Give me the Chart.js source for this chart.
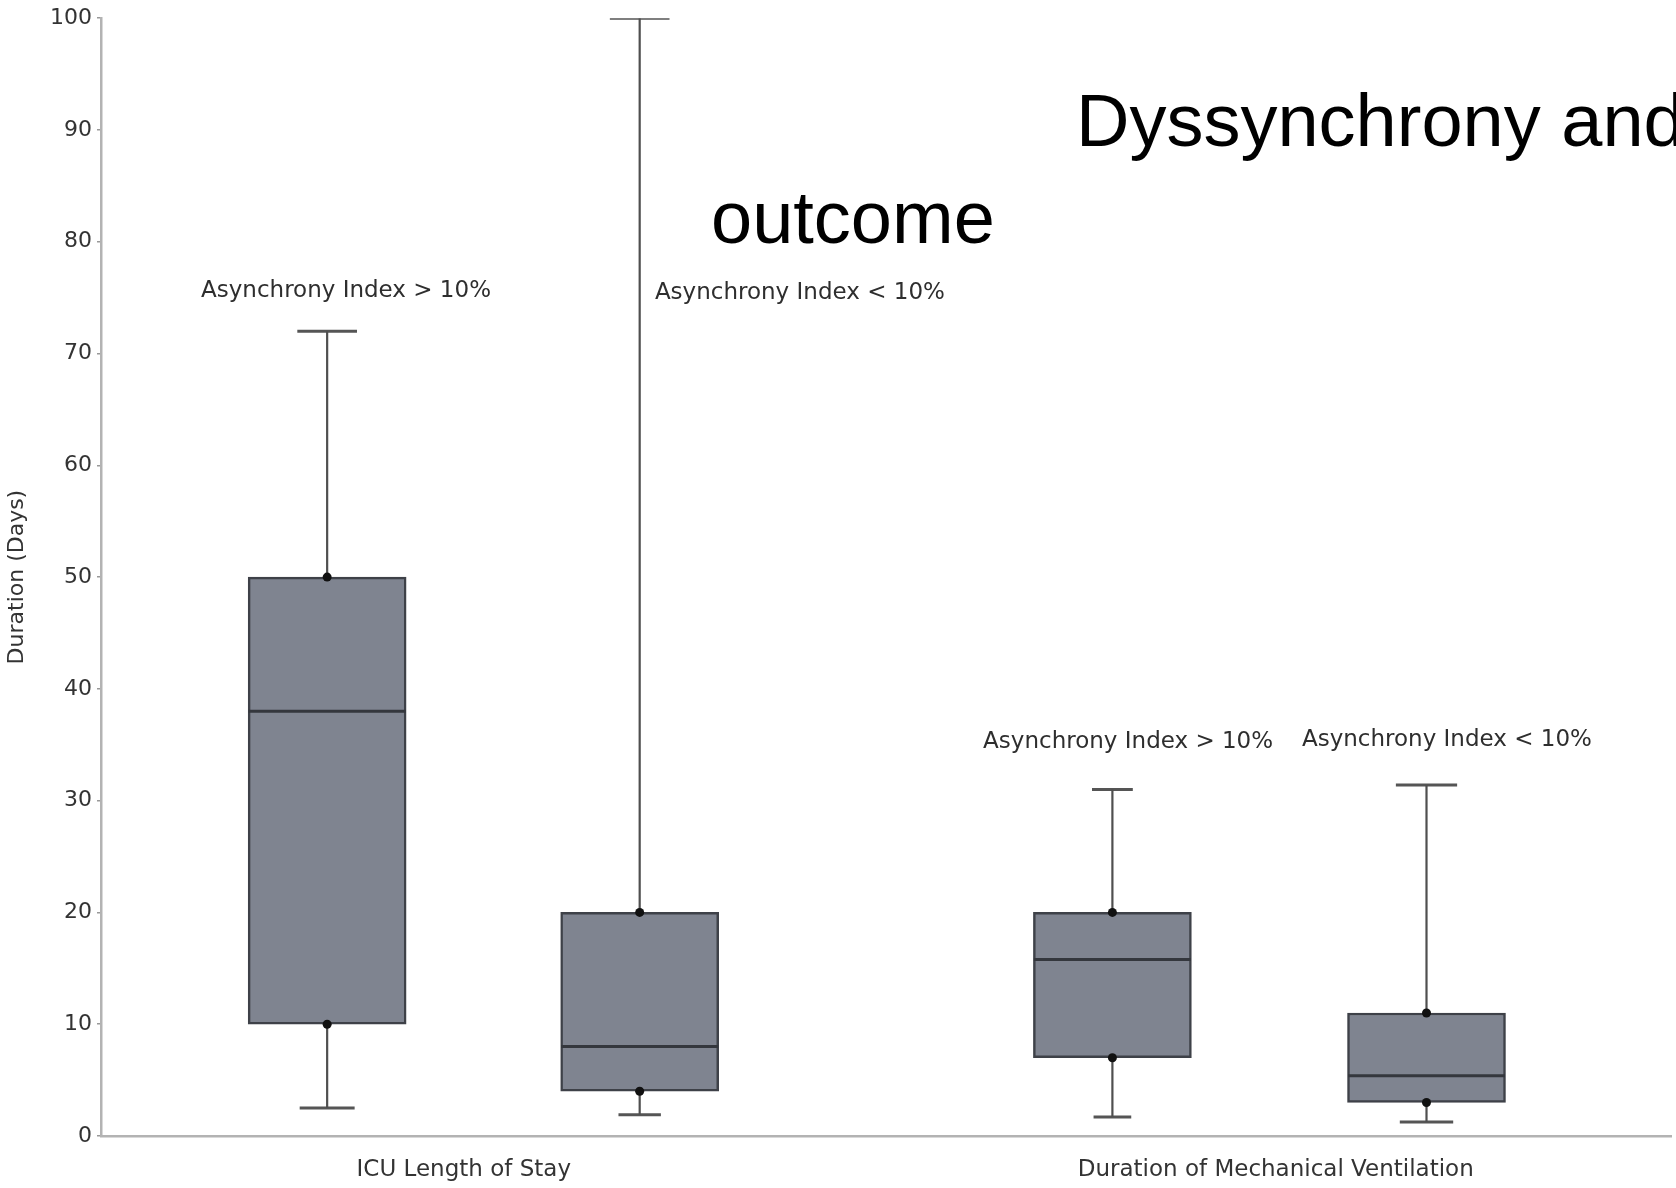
<!DOCTYPE html>
<html>
<head>
<meta charset="utf-8">
<title>Dyssynchrony and outcome</title>
<script src="https://cdn.jsdelivr.net/npm/chart.js@4.4.1/dist/chart.umd.min.js"></script>
<style>
  html, body { margin: 0; padding: 0; background: #fff; }
  #wrap { width: 1676px; height: 1188px; position: relative; }
</style>
</head>
<body>
<div id="wrap"><canvas id="chartCanvas"></canvas></div>
<script>
// box plot values (days), one entry per box
const boxCenters = [1.44, 3.43, 6.44, 8.44];
const whiskerLow = [2.5, 1.9, 1.7, 1.25];
const lowerQuartile = [10, 4, 7, 3];
const medianValues = [38, 8, 15.8, 5.4];
const upperQuartile = [50, 20, 20, 11];
const whiskerHigh = [72, 100, 31, 31.4];

const boxLabels = ['Asynchrony Index > 10%', 'Asynchrony Index < 10%', 'Asynchrony Index > 10%', 'Asynchrony Index < 10%'];
const boxLabelX = [1.56, 4.45, 6.54, 8.57];
const boxLabelY = [75.1, 74.9, 34.7, 34.9];

const groupLabels = ['ICU Length of Stay', 'Duration of Mechanical Ventilation'];
const groupPositions = [2.31, 7.48];

// cap half widths in x units (they differ a little per box in the original)
const capTopHalf = [0.19, 0.19, 0.13, 0.195];
const capBottomHalf = [0.175, 0.135, 0.12, 0.17];
const boxHalf = 0.5;

Chart.defaults.font.family = '"DejaVu Sans", Verdana, sans-serif';
Chart.defaults.color = '#333';

// build the helper line data from the arrays above
const whiskerPts = [];
const capPts = [];
const medianPts = [];
const dotPts = [];
boxCenters.forEach((c, i) => {
    whiskerPts.push({x: c, y: whiskerHigh[i]}, {x: c, y: upperQuartile[i]}, {x: c, y: null});
    whiskerPts.push({x: c, y: lowerQuartile[i]}, {x: c, y: whiskerLow[i]}, {x: c, y: null});
    capPts.push({x: c - capTopHalf[i], y: whiskerHigh[i]}, {x: c + capTopHalf[i], y: whiskerHigh[i]}, {x: c, y: null});
    capPts.push({x: c - capBottomHalf[i], y: whiskerLow[i]}, {x: c + capBottomHalf[i], y: whiskerLow[i]}, {x: c, y: null});
    medianPts.push({x: c - boxHalf, y: medianValues[i]}, {x: c + boxHalf, y: medianValues[i]}, {x: c, y: null});
    dotPts.push({x: c, y: upperQuartile[i]}, {x: c, y: lowerQuartile[i]});
});

// text over the plot: box labels and the clipped slide title
const overlayText = {
    id: 'overlayText',
    afterDraw(chart) {
        const ctx = chart.ctx;
        const xs = chart.scales.x;
        const ys = chart.scales.y;
        ctx.save();
        ctx.fillStyle = '#2e2e2e';
        ctx.font = '23px "DejaVu Sans", Verdana, sans-serif';
        ctx.textAlign = 'center';
        ctx.textBaseline = 'alphabetic';
        boxLabels.forEach((t, i) => {
            ctx.fillText(t, xs.getPixelForValue(boxLabelX[i]), ys.getPixelForValue(boxLabelY[i]));
        });
        ctx.fillStyle = '#000';
        ctx.font = '74px "Liberation Sans", Arial, sans-serif';
        ctx.textAlign = 'left';
        ctx.fillText('Dyssynchrony and', 1076, 146);
        ctx.fillText('outcome', 711, 243);
        ctx.restore();
    }
};

new Chart(document.getElementById('chartCanvas'), {
    type: 'bar',
    data: {
        datasets: [
            {
                type: 'line',
                data: dotPts,
                showLine: false,
                pointRadius: 4.5,
                pointBackgroundColor: '#111',
                pointBorderWidth: 0,
                order: 0
            },
            {
                type: 'line',
                data: medianPts,
                borderColor: '#34373d',
                borderWidth: 3,
                pointRadius: 0,
                spanGaps: false,
                order: 1
            },
            {
                type: 'bar',
                data: boxCenters.map((c, i) => ({x: c, y: [lowerQuartile[i], upperQuartile[i]]})),
                backgroundColor: '#7f8490',
                borderColor: '#3e4148',
                borderWidth: 2.5,
                borderSkipped: false,
                barThickness: 158,
                order: 2
            },
            {
                type: 'line',
                data: whiskerPts,
                borderColor: '#4f4f4f',
                borderWidth: 2.2,
                pointRadius: 0,
                spanGaps: false,
                order: 3
            },
            {
                type: 'line',
                data: capPts,
                borderColor: '#555',
                borderWidth: 3,
                pointRadius: 0,
                spanGaps: false,
                order: 3
            }
        ]
    },
    options: {
        responsive: true,
        maintainAspectRatio: false,
        animation: false,
        events: [],
        layout: { padding: { top: 16, right: 0, left: 0, bottom: 0 } },
        plugins: {
            legend: { display: false },
            tooltip: { enabled: false }
        },
        scales: {
            x: {
                type: 'linear',
                min: 0,
                max: 10,
                offset: false,
                grid: { display: false, drawTicks: false },
                border: { display: true, color: '#b3b3b3', width: 2.5 },
                afterBuildTicks: (scale) => {
                    scale.ticks = groupPositions.map(v => ({value: v}));
                },
                afterFit: (scale) => { scale.height = 52; },
                ticks: {
                    autoSkip: false,
                    maxRotation: 0,
                    padding: 20,
                    font: { size: 23 },
                    color: '#333',
                    callback: (value, index) => groupLabels[index]
                }
            },
            y: {
                min: 0,
                max: 100,
                grid: { drawOnChartArea: false, tickLength: 4, color: '#999', lineWidth: 1.5 },
                border: { display: true, color: '#b3b3b3', width: 2.5 },
                afterFit: (scale) => { scale.width = 101; },
                ticks: {
                    stepSize: 10,
                    padding: 5,
                    font: { size: 22 },
                    color: '#333'
                },
                title: {
                    display: true,
                    text: 'Duration (Days)',
                    font: { size: 22 },
                    color: '#333'
                }
            }
        }
    },
    plugins: [overlayText]
});
</script>
</body>
</html>
